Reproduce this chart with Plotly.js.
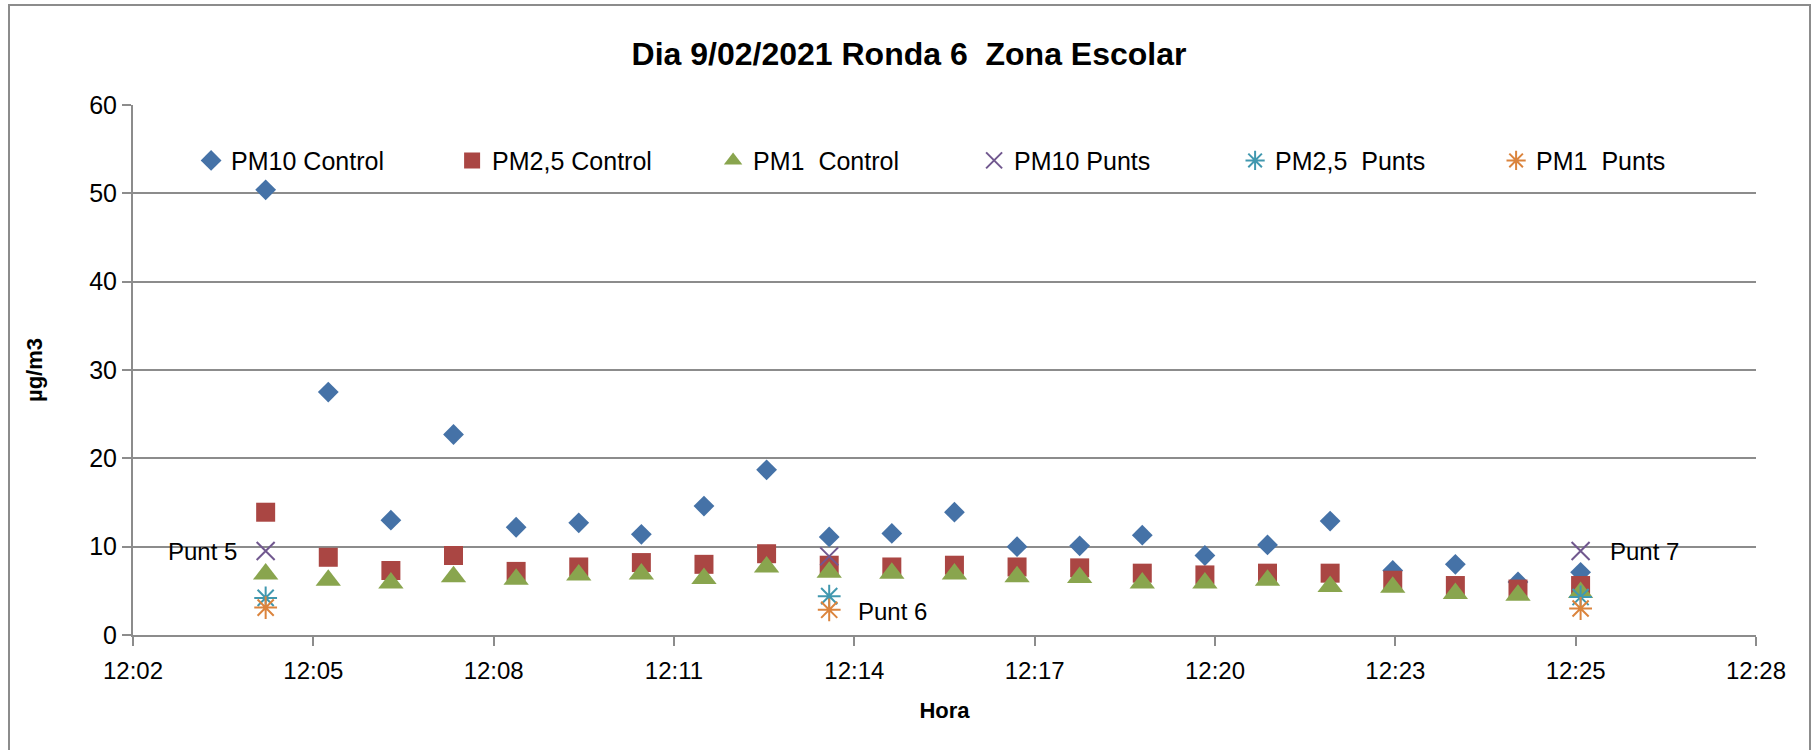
<!DOCTYPE html>
<html><head><meta charset="utf-8">
<script src="https://cdn.plot.ly/plotly-3.0.1.min.js"></script>
<style>
html,body{margin:0;padding:0;background:#fff;overflow:hidden;}
#chart{width:1818px;height:750px;}
#frame{position:absolute;left:8px;top:4px;width:1803px;height:820px;border:2px solid #8c8c8c;pointer-events:none;box-sizing:border-box;}
</style></head>
<body><div id="chart"></div><div id="frame"></div>
<script>
// ---- data ----
const day = '2021-02-09';
const times = ['12:04:34','12:05:34','12:06:34','12:07:34','12:08:34','12:09:34','12:10:34','12:11:34',
  '12:12:34','12:13:34','12:14:34','12:15:34','12:16:34','12:17:34','12:18:34','12:19:34',
  '12:20:34','12:21:34','12:22:34','12:23:34','12:24:34','12:25:34'];
const pm10Control = [50.4,27.5,13.0,22.7,12.2,12.7,11.4,14.6,18.7,11.1,11.5,13.9,10.0,10.1,11.3,9.0,10.2,12.9,7.3,8.0,6.0,7.1];
const pm25Control = [13.9,8.8,7.3,9.0,7.2,7.7,8.2,8.0,9.2,7.9,7.7,7.9,7.7,7.6,7.0,6.8,7.0,7.0,6.2,5.6,5.2,5.6];
const pm1Control  = [6.9,6.2,5.9,6.6,6.3,6.8,6.9,6.4,7.7,7.1,7.0,6.9,6.6,6.5,5.9,5.9,6.2,5.5,5.4,4.7,4.5,4.8];
const puntTimes = ['12:04:34','12:13:34','12:25:34'];
const puntLabels = ['Punt 5','Punt 6','Punt 7'];
const pm10Punts = [9.5,8.9,9.5];
const pm25Punts = [4.2,4.4,4.3];
const pm1Punts  = [3.1,2.85,3.0];
const seriesNames = ['PM10 Control','PM2,5 Control','PM1\u00a0 Control','PM10 Punts','PM2,5\u00a0 Punts','PM1\u00a0 Punts'];
const tickLabels = ['12:02','12:05','12:08','12:11','12:14','12:17','12:20','12:23','12:25','12:28'];
const axisStart = '12:02:26.88';   // Excel axis minimum (0.5017 d)
const majorUnitSec = 172.8;        // Excel major unit (0.002 d)

// ---- helpers ----
function toSec(t){const p=t.split(':');return (+p[0])*3600+(+p[1])*60+parseFloat(p[2]);}
function pad(n){return String(n).padStart(2,'0');}
function secToDate(s){const h=Math.floor(s/3600);const m=Math.floor((s-h*3600)/60);const sec=s-h*3600-m*60;
  const ss=sec.toFixed(3); return `${day} ${pad(h)}:${pad(m)}:${sec<10?'0'+ss:ss}`;}
function dt(t){return secToDate(toSec(t));}
const startSec = toSec(axisStart);
const tickVals = tickLabels.map((_,i)=>secToDate(startSec+i*majorUnitSec));
const xRange = [tickVals[0], tickVals[tickVals.length-1]];

const FONT = 'Liberation Sans, Arial, sans-serif';
const GRAY = '#8c8c8c';
const X = times.map(dt), XP = puntTimes.map(dt);

const traces = [
  {x:X, y:pm10Control, name:seriesNames[0], mode:'markers', type:'scatter',
   marker:{symbol:'diamond', size:16, color:'#4572A7'}},
  {x:X, y:pm25Control, name:seriesNames[1], mode:'markers', type:'scatter',
   marker:{symbol:'square', size:19, color:'#AA4643'}},
  {x:X, y:pm1Control, name:seriesNames[2], mode:'markers', type:'scatter',
   marker:{symbol:'triangle-up', size:22, color:'#89A54E'}},
  {x:XP, y:pm10Punts, name:seriesNames[3], mode:'markers', type:'scatter',
   marker:{symbol:'x-thin-open', size:18, color:'#71588F', line:{width:2}}},
  {x:XP, y:pm25Punts, name:seriesNames[4], mode:'markers', type:'scatter',
   marker:{symbol:'asterisk-open', size:19, color:'#4198AF', line:{width:2}}},
  {x:XP, y:pm1Punts, name:seriesNames[5], mode:'markers', type:'scatter',
   marker:{symbol:'asterisk-open', size:19, color:'#DB843D', line:{width:2}}}
];

const annotations = [
  {x:XP[0], y:pm10Punts[0], text:puntLabels[0], xanchor:'right', xshift:-27},
  {x:XP[1], y:pm1Punts[1], text:puntLabels[1], xanchor:'left', xshift:27, yshift:-2},
  {x:XP[2], y:pm10Punts[2], text:puntLabels[2], xanchor:'left', xshift:27}
].map(a=>Object.assign({xref:'x', yref:'y', showarrow:false, yanchor:'middle',
   font:{family:FONT, size:24, color:'#000'}}, a));

const layout = {
  width:1818, height:750,
  paper_bgcolor:'#fff', plot_bgcolor:'#fff',
  margin:{l:133, r:62, t:105, b:115},
  font:{family:FONT, color:'#000'},
  title:{text:'<b>Dia 9/02/2021 Ronda 6\u00a0 Zona Escolar</b>', font:{family:FONT, size:32, color:'#000'},
    x:0.5, xanchor:'center', xref:'container', y:1-54/750, yref:'container', yanchor:'middle'},
  xaxis:{type:'date', range:xRange, tickmode:'array', tickvals:tickVals, ticktext:tickLabels,
    ticks:'outside', ticklen:9, tickwidth:2, tickcolor:GRAY, ticklabelstandoff:4,
    showline:true, linecolor:GRAY, linewidth:2, showgrid:false, zeroline:false,
    tickfont:{family:FONT, size:24, color:'#000'},
    title:{text:'<b>Hora</b>', font:{family:FONT, size:22, color:'#000'}, standoff:20}},
  yaxis:{range:[0,60], tick0:0, dtick:10, ticks:'outside', ticklen:9, tickwidth:2, tickcolor:GRAY,
    showline:true, linecolor:GRAY, linewidth:2, showgrid:true, gridcolor:GRAY, gridwidth:2, zeroline:false,
    tickfont:{family:FONT, size:25, color:'#000'},
    title:{text:'<b>µg/m3</b>', font:{family:FONT, size:22, color:'#000'}, standoff:40}},
  legend:{orientation:'h', x:0.0358, xanchor:'left', y:0.895, yanchor:'middle',
    entrywidth:216, entrywidthmode:'pixels', font:{family:FONT, size:25, color:'#000'},
    bgcolor:'rgba(0,0,0,0)', tracegroupgap:0},
  annotations:annotations,
  showlegend:true
};

Plotly.newPlot('chart', traces, layout, {displayModeBar:false, staticPlot:true});
</script>
</body></html>
